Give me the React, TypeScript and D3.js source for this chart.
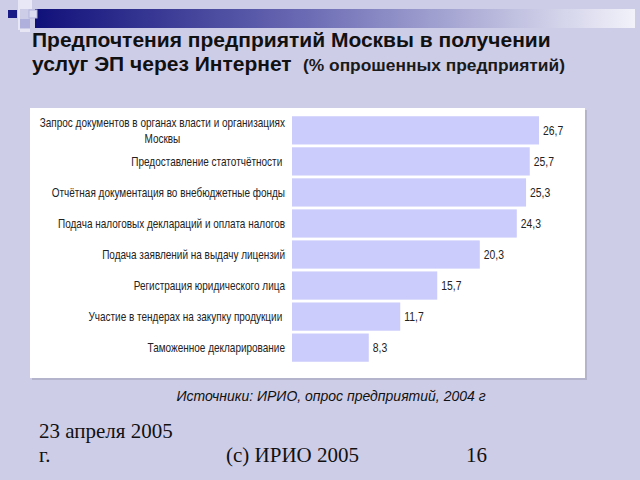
import React, { useEffect, useRef } from "react";
import * as d3 from "d3";

const categories: string[][] = [
  ["Запрос документов в органах власти и организациях", "Москвы"],
  ["Предоставление статотчётности "],
  ["Отчётная документация во внебюджетные фонды"],
  ["Подача налоговых деклараций и оплата налогов"],
  ["Подача заявлений на выдачу лицензий"],
  ["Регистрация юридического лица"],
  ["Участие в тендерах на закупку продукции "],
  ["Таможенное декларирование"],
];
const values: number[] = [26.7, 25.7, 25.3, 24.3, 20.3, 15.7, 11.7, 8.3];

const titleLine1 = "Предпочтения предприятий Москвы в получении";
const titleLine2 = "услуг ЭП через Интернет";
const titleNote = "(% опрошенных предприятий)";
const sourceText = "Источники: ИРИО, опрос предприятий, 2004 г";
const footerDate = ["23 апреля 2005", "г."];
const footerCopy = "(c) ИРИО 2005";
const footerPage = "16";

const W = 640;
const H = 480;
const SANS = "'Liberation Sans', Arial, sans-serif";
const SERIF = "'Liberation Serif', 'Times New Roman', serif";
const NARROW_SCALE = 0.8;

export default function App() {
  const ref = useRef<SVGSVGElement | null>(null);

  useEffect(() => {
    const svg = d3.select(ref.current);
    svg.selectAll("*").remove();

    const defs = svg.append("defs");
    const grad = defs
      .append("linearGradient")
      .attr("id", "topbar")
      .attr("x1", "0%")
      .attr("x2", "100%");
    grad.append("stop").attr("offset", "0%").attr("stop-color", "#10107a");
    grad.append("stop").attr("offset", "45%").attr("stop-color", "#6a6ab4");
    grad.append("stop").attr("offset", "100%").attr("stop-color", "#f2f2fa");

    svg.append("rect").attr("width", W).attr("height", H).attr("fill", "#cdcde8");

    // decoration
    svg.append("rect").attr("x", 35).attr("y", 9).attr("width", 600).attr("height", 19).attr("fill", "url(#topbar)");
    svg.append("rect").attr("x", 18).attr("y", 0).attr("width", 2).attr("height", 30).attr("fill", "#e6e6f4");
    svg.append("rect").attr("x", 20).attr("y", 0).attr("width", 12).attr("height", 9).attr("fill", "#e8e8f6");
    svg.append("rect").attr("x", 8).attr("y", 10).attr("width", 9).attr("height", 8).attr("fill", "#1a1a86");
    svg.append("rect").attr("x", 29).attr("y", 10).attr("width", 8).attr("height", 8).attr("fill", "#dcdcf0").attr("stroke", "#b4b4dc").attr("stroke-width", 1);
    svg.append("rect").attr("x", 20).attr("y", 19).attr("width", 10).attr("height", 9).attr("fill", "#b0b0dc");
    svg.append("rect").attr("x", 20).attr("y", 29).attr("width", 10).attr("height", 3).attr("fill", "#e6e6f4");

    // title
    svg.append("text").attr("x", 32).attr("y", 47).attr("font-family", SANS).attr("font-weight", "bold")
      .attr("font-size", 21).attr("fill", "#111").text(titleLine1);
    svg.append("text").attr("x", 32).attr("y", 71).attr("font-family", SANS).attr("font-weight", "bold")
      .attr("font-size", 21).attr("fill", "#111").text(titleLine2);
    svg.append("text").attr("x", 303).attr("y", 71).attr("font-family", SANS).attr("font-weight", "bold")
      .attr("font-size", 16).attr("fill", "#1a1a1a")
      .attr("textLength", 262).attr("lengthAdjust", "spacingAndGlyphs").text(titleNote);

    // panel
    svg.append("rect").attr("x", 32).attr("y", 110).attr("width", 555).attr("height", 270).attr("fill", "#b4b4cc");
    svg.append("rect").attr("x", 30).attr("y", 108).attr("width", 555).attr("height", 270).attr("fill", "#ffffff");

    const x = d3.scaleLinear().domain([0, d3.max(values) as number]).range([292, 539]);
    const y = d3
      .scaleBand<number>()
      .domain(values.map((_, i) => i))
      .range([115, 363])
      .paddingInner(0.09)
      .paddingOuter(0.04);

    const g = svg.append("g");
    g.selectAll("rect.bar")
      .data(values)
      .join("rect")
      .attr("class", "bar")
      .attr("x", x(0))
      .attr("y", (_, i) => y(i) as number)
      .attr("width", (d) => x(d) - x(0))
      .attr("height", y.bandwidth())
      .attr("fill", "#ccccfc");

    g.selectAll("text.val")
      .data(values)
      .join("text")
      .attr("class", "val")
      .attr("transform", (d, i) => `translate(${x(d) + 4},${(y(i) as number) + y.bandwidth() / 2}) scale(${NARROW_SCALE},1)`)
      .attr("dy", "0.35em")
      .attr("font-family", SANS)
      .attr("font-size", 13)
      .attr("fill", "#222")
      .text((d) => d.toFixed(1).replace(".", ","));

    const labelRight = 285;
    categories.forEach((lines, i) => {
      const cy = (y(i) as number) + y.bandwidth() / 2;
      const lh = 16;
      const top = cy - ((lines.length - 1) * lh) / 2;
      const first = g
        .append("text")
        .attr("transform", `translate(${labelRight},${top}) scale(${NARROW_SCALE},1)`)
        .attr("dy", "0.35em")
        .attr("text-anchor", "end")
        .attr("font-family", SANS)
        .attr("font-size", 12.5)
        .attr("fill", "#222")
        .style("white-space", "pre")
        .text(lines[0]);
      const w = (first.node() as SVGTextElement).getComputedTextLength() * NARROW_SCALE;
      lines.slice(1).forEach((ln, k) => {
        g.append("text")
          .attr("transform", `translate(${labelRight - w / 2},${top + (k + 1) * lh}) scale(${NARROW_SCALE},1)`)
          .attr("dy", "0.35em")
          .attr("text-anchor", "middle")
          .attr("font-family", SANS)
          .attr("font-size", 12.5)
          .attr("fill", "#222")
          .text(ln);
      });
    });

    // source
    svg.append("text").attr("x", 331).attr("y", 401).attr("text-anchor", "middle")
      .attr("font-family", SANS).attr("font-style", "italic").attr("font-size", 14).attr("fill", "#111").text(sourceText);

    // footer
    footerDate.forEach((t, i) => {
      svg.append("text").attr("x", 39).attr("y", 438 + i * 24).attr("font-family", SERIF)
        .attr("font-size", 21).attr("fill", "#111").text(t);
    });
    svg.append("text").attr("x", 226).attr("y", 462).attr("font-family", SERIF)
      .attr("font-size", 21).attr("fill", "#111").text(footerCopy);
    svg.append("text").attr("x", 466).attr("y", 462).attr("font-family", SERIF)
      .attr("font-size", 21).attr("fill", "#111").text(footerPage);
  }, []);

  return (
    <svg
      ref={ref}
      width={W}
      height={H}
      style={{ display: "block", position: "absolute", left: 0, top: 0 }}
    />
  );
}
